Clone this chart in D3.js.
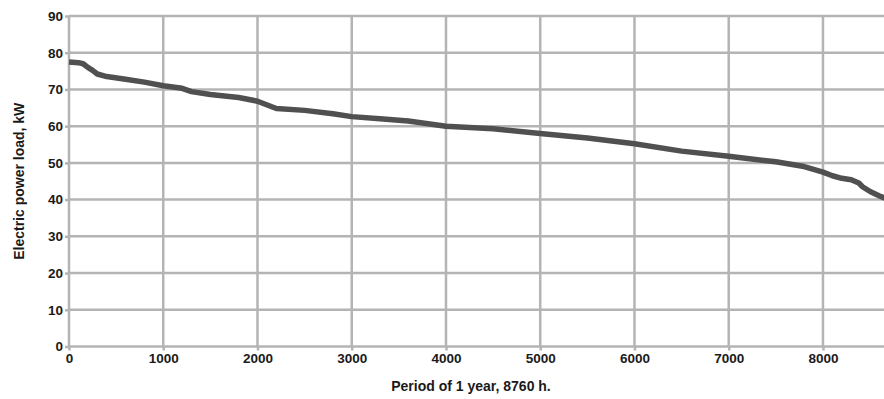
<!DOCTYPE html>
<html>
<head>
<meta charset="utf-8">
<script src="https://cdn.jsdelivr.net/npm/d3@7"></script>
<style>
  body { margin: 0; background: #fff; }
  svg { display: block; font-family: "Liberation Sans", Arial, sans-serif; }
  .grid line { stroke: #b4b4b4; stroke-width: 2.5px; }
  .axis text { font-weight: bold; font-size: 13.5px; fill: #1a1a1a; }
  .axis path { display: none; }
  .axis line { stroke: #b4b4b4; stroke-width: 2.5px; }
</style>
</head>
<body>
<div id="chart-area"></div>
<script>
const MARGIN = { LEFT: 69, RIGHT: 0, TOP: 16, BOTTOM: 52.5 }
const W = 884, H = 399
const WIDTH = 825.6          // 0..8760 h, plot runs past the right edge
const HEIGHT = H - MARGIN.TOP - MARGIN.BOTTOM

// load duration curve
const hours = [0, 100, 150, 200, 250, 300, 400, 600, 800, 1000, 1200, 1300, 1500, 1800, 2000,
  2200, 2500, 2800, 3000, 3300, 3600, 4000, 4500, 5000, 5500, 6000, 6500, 7000, 7500,
  7800, 8000, 8100, 8200, 8300, 8380, 8420, 8500, 8600, 8700, 8760]
const loadKW = [77.5, 77.3, 77, 76, 75.2, 74.2, 73.5, 72.8, 72, 71, 70.3, 69.4, 68.6, 67.8, 66.8,
  64.8, 64.3, 63.4, 62.6, 62, 61.4, 60, 59.3, 58, 56.8, 55.2, 53.2, 51.8, 50.3,
  49, 47.5, 46.5, 45.8, 45.4, 44.5, 43.5, 42.2, 41, 40, 39.5]
const xTicks = [0, 1000, 2000, 3000, 4000, 5000, 6000, 7000, 8000]
const yTicks = [0, 10, 20, 30, 40, 50, 60, 70, 80, 90]

const svg = d3.select("#chart-area").append("svg")
  .attr("width", W)
  .attr("height", H)

const g = svg.append("g")
  .attr("transform", `translate(${MARGIN.LEFT}, ${MARGIN.TOP})`)

const x = d3.scaleLinear().domain([0, 8760]).range([0, WIDTH])
const y = d3.scaleLinear().domain([0, 90]).range([HEIGHT, 0])

// grid
g.append("g").attr("class", "grid")
  .selectAll("line.h").data(yTicks).join("line")
  .attr("x1", 0).attr("x2", WIDTH)
  .attr("y1", d => y(d)).attr("y2", d => y(d))

g.append("g").attr("class", "grid")
  .selectAll("line.v").data(xTicks).join("line")
  .attr("x1", d => x(d)).attr("x2", d => x(d))
  .attr("y1", 0).attr("y2", HEIGHT)

// axes
g.append("g").attr("class", "x axis")
  .attr("transform", `translate(0, ${HEIGHT})`)
  .call(d3.axisBottom(x).tickValues(xTicks).tickSize(4).tickPadding(3).tickFormat(d3.format("d")))

g.append("g").attr("class", "y axis")
  .call(d3.axisLeft(y).tickValues(yTicks).tickSize(4).tickPadding(2))

// curve
const line = d3.line().x((d, i) => x(hours[i])).y(d => y(d))
g.append("path")
  .datum(loadKW)
  .attr("fill", "none")
  .attr("stroke", "#505050")
  .attr("stroke-width", 5.5)
  .attr("stroke-linejoin", "round")
  .attr("d", line)

// labels
svg.append("text")
  .attr("x", 471)
  .attr("y", 391)
  .attr("text-anchor", "middle")
  .attr("font-weight", "bold")
  .attr("font-size", "14px")
  .attr("fill", "#1a1a1a")
  .text("Period of 1 year, 8760 h.")

svg.append("text")
  .attr("transform", `translate(24, ${MARGIN.TOP + HEIGHT / 2}) rotate(-90)`)
  .attr("text-anchor", "middle")
  .attr("font-weight", "bold")
  .attr("font-size", "14px")
  .attr("fill", "#1a1a1a")
  .text("Electric power load, kW")
</script>
</body>
</html>
